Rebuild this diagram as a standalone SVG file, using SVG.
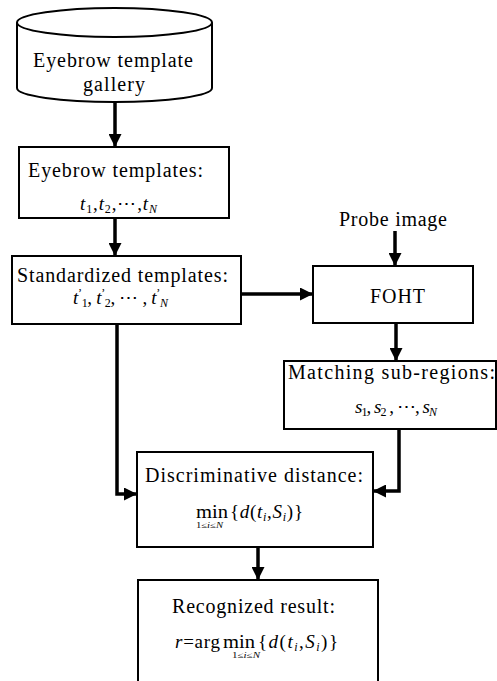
<svg xmlns="http://www.w3.org/2000/svg" width="497" height="681" viewBox="0 0 497 681">
  <style>
    .box { fill: #fff; stroke: #000; stroke-width: 2; }
    .lbl { font-family: "Liberation Serif", "Times New Roman", serif; font-size: 20px; fill: #000; }
    .math { font-family: "Liberation Serif", "Times New Roman", serif; font-size: 19px; fill: #000; }
    .it { font-style: italic; }
    .sub { font-size: 12px; }
    .tiny { font-family: "Liberation Serif", "Times New Roman", serif; font-size: 8px; fill: #000; }
    .wire { fill: none; stroke: #000; stroke-width: 3.5; }
  </style>
  <defs>
    <marker id="head" viewBox="0 0 13 13" refX="13" refY="6.5" markerWidth="13" markerHeight="13" markerUnits="userSpaceOnUse" orient="auto">
      <path d="M0,0 L13,6.5 L0,13 Z" fill="#000"/>
    </marker>
  </defs>

  <!-- connectors -->
  <g id="connectors">
    <line class="wire" x1="115" y1="102" x2="115" y2="147" marker-end="url(#head)"/>
    <line class="wire" x1="115" y1="218" x2="115" y2="256" marker-end="url(#head)"/>
    <line class="wire" x1="241" y1="294" x2="313" y2="294" marker-end="url(#head)"/>
    <line class="wire" x1="395" y1="231" x2="395" y2="266" marker-end="url(#head)"/>
    <line class="wire" x1="396" y1="323" x2="396" y2="361" marker-end="url(#head)"/>
    <polyline class="wire" points="117,324 117,494 137,494" marker-end="url(#head)"/>
    <polyline class="wire" points="399,429 399,491 373,491" marker-end="url(#head)"/>
    <line class="wire" x1="258" y1="547" x2="258" y2="580" marker-end="url(#head)"/>
  </g>

  <!-- template gallery (database cylinder) -->
  <g id="gallery">
    <path class="box" d="M17,22.5 L17,88 A97.5,14 0 0 0 212,88 L212,22.5"/>
    <ellipse class="box" cx="114.5" cy="22.5" rx="97.5" ry="14.5"/>
    <text class="lbl" x="33" y="67" textLength="160" lengthAdjust="spacing">Eyebrow template</text>
    <text class="lbl" x="83" y="91" textLength="62" lengthAdjust="spacing">gallery</text>
  </g>

  <g id="templates">
    <rect class="box" x="19" y="147" width="210" height="71"/>
    <text class="lbl" x="28" y="177" textLength="175" lengthAdjust="spacing">Eyebrow templates:</text>
    <text class="math" x="80" y="210" textLength="77" lengthAdjust="spacing"><tspan class="it">t</tspan><tspan class="sub" dy="3">1</tspan><tspan dy="-3">,</tspan><tspan class="it">t</tspan><tspan class="sub" dy="3">2</tspan><tspan dy="-3">,⋯,</tspan><tspan class="it">t</tspan><tspan class="sub it" dy="3">N</tspan></text>
  </g>

  <g id="standardized">
    <rect class="box" x="12" y="256" width="229" height="68"/>
    <text class="lbl" x="17" y="282" textLength="211" lengthAdjust="spacing">Standardized templates:</text>
    <text class="math" x="73" y="304" textLength="95" lengthAdjust="spacing"><tspan class="it">t</tspan><tspan class="sub" dy="-7">’</tspan><tspan class="sub" dy="10">1</tspan><tspan dy="-3">, </tspan><tspan class="it">t</tspan><tspan class="sub" dy="-7">’</tspan><tspan class="sub" dy="10">2</tspan><tspan dy="-3">, ⋯ , </tspan><tspan class="it">t</tspan><tspan class="sub" dy="-7">’</tspan><tspan class="sub it" dy="10">N</tspan></text>
  </g>

  <g id="probe">
    <text class="lbl" x="339" y="226" textLength="108" lengthAdjust="spacing">Probe image</text>
  </g>

  <g id="foht">
    <rect class="box" x="313" y="266" width="160" height="57"/>
    <text class="lbl" x="370" y="303" textLength="55" lengthAdjust="spacing">FOHT</text>
  </g>

  <g id="matching">
    <rect class="box" x="284" y="361" width="212" height="68"/>
    <text class="lbl" x="288" y="379" textLength="207" lengthAdjust="spacing">Matching sub-regions:</text>
    <text class="math" x="355" y="413" textLength="82" lengthAdjust="spacing"><tspan class="it">s</tspan><tspan class="sub" dy="3">1</tspan><tspan dy="-3">, </tspan><tspan class="it">s</tspan><tspan class="sub" dy="3">2</tspan><tspan dy="-3"> , ⋯, </tspan><tspan class="it">s</tspan><tspan class="sub it" dy="3">N</tspan></text>
  </g>

  <g id="distance">
    <rect class="box" x="137" y="452" width="236" height="95"/>
    <text class="lbl" x="145" y="482" textLength="218" lengthAdjust="spacing">Discriminative distance:</text>
    <text class="math" x="196" y="518" textLength="32" lengthAdjust="spacingAndGlyphs">min</text>
    <text class="tiny" x="196" y="528" textLength="27" lengthAdjust="spacingAndGlyphs">1≤<tspan class="it">i</tspan>≤<tspan class="it">N</tspan></text>
    <text class="math" x="230" y="518" textLength="73" lengthAdjust="spacing">{<tspan class="it">d</tspan>(<tspan class="it">t</tspan><tspan class="sub it" dy="3">i</tspan><tspan dy="-3">,</tspan><tspan class="it">S</tspan><tspan class="sub it" dy="3">i</tspan><tspan dy="-3">)}</tspan></text>
  </g>

  <g id="result">
    <rect class="box" x="138" y="580" width="240" height="110"/>
    <text class="lbl" x="172" y="613" textLength="163" lengthAdjust="spacing">Recognized result:</text>
    <text class="math" x="175" y="648" textLength="45" lengthAdjust="spacing"><tspan class="it">r</tspan>=arg</text>
    <text class="math" x="223" y="648" textLength="32" lengthAdjust="spacingAndGlyphs">min</text>
    <text class="tiny" x="232" y="658" textLength="28" lengthAdjust="spacingAndGlyphs">1≤<tspan class="it">i</tspan>≤<tspan class="it">N</tspan></text>
    <text class="math" x="258" y="648" textLength="80" lengthAdjust="spacing">{<tspan class="it">d</tspan>(<tspan class="it">t</tspan><tspan class="sub it" dy="3">i</tspan><tspan dy="-3">,</tspan><tspan class="it">S</tspan><tspan class="sub it" dy="3">i</tspan><tspan dy="-3">)}</tspan></text>
  </g>
</svg>
